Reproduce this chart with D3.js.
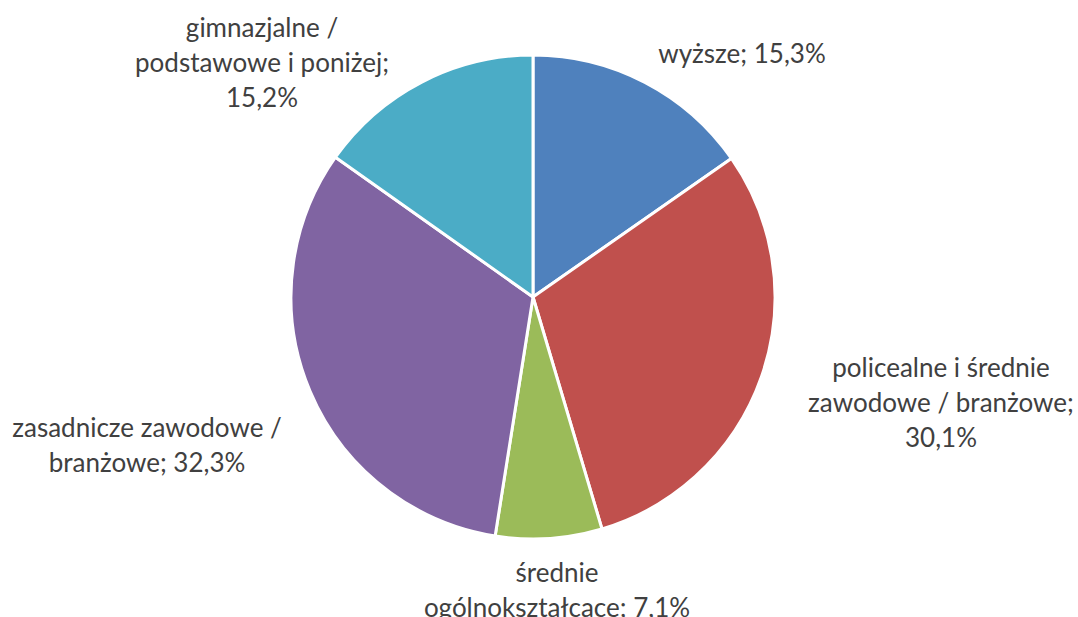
<!DOCTYPE html>
<html>
<head>
<meta charset="utf-8">
<script src="https://cdn.jsdelivr.net/npm/d3@7"></script>
<style>
  body { margin: 0; background: #fff; }
  svg text { font-family: Lato, "Open Sans", sans-serif; fill: #404040; }
</style>
</head>
<body>
<div id="pie-chart"></div>
<script>
// Data
var categories = ["wyższe", "policealne i średnie zawodowe / branżowe", "średnie ogólnokształcące",
                  "zasadnicze zawodowe / branżowe", "gimnazjalne / podstawowe i poniżej"];
var values = [15.3, 30.1, 7.1, 32.3, 15.2];
var colors = ["#4F81BD", "#C0504D", "#9BBB59", "#8064A2", "#4BACC6"];
// label lines as shown in the chart
var labelLines = [
    ["wyższe; 15,3%"],
    ["policealne i średnie", "zawodowe / branżowe;", "30,1%"],
    ["średnie", "ogólnokształcące; 7,1%"],
    ["zasadnicze zawodowe /", "branżowe; 32,3%"],
    ["gimnazjalne /", "podstawowe i poniżej;", "15,2%"]
];
// label centre (x, first baseline y)
var labelPos = [[742, 63], [941, 377], [557, 582], [147, 437], [262, 37]];

var width = 1078, height = 617;
var cx = 533, cy = 297, radius = 242;

var svg = d3.select("#pie-chart")
    .append("svg")
    .attr("width", width)
    .attr("height", height);

var pie = d3.pie().sort(null).value(function(d) { return d; });
var arc = d3.arc().innerRadius(0).outerRadius(radius);

var g = svg.append("g")
    .attr("transform", "translate(" + cx + "," + cy + ")");

g.selectAll("path")
    .data(pie(values))
    .enter()
    .append("path")
    .attr("d", arc)
    .attr("fill", function(d, i) { return colors[i]; })
    .attr("stroke", "#fff")
    .attr("stroke-width", 3)
    .attr("stroke-linejoin", "round");

// Labels
var labels = svg.selectAll("text.label")
    .data(labelLines)
    .enter()
    .append("text")
    .attr("class", "label")
    .attr("text-anchor", "middle")
    .attr("font-size", "26px")
    .attr("x", function(d, i) { return labelPos[i][0]; })
    .attr("y", function(d, i) { return labelPos[i][1]; });

labels.each(function(lines, i) {
    var t = d3.select(this);
    lines.forEach(function(line, j) {
        t.append("tspan")
            .attr("x", labelPos[i][0])
            .attr("dy", j === 0 ? 0 : 35)
            .text(line);
    });
});
</script>
</body>
</html>
